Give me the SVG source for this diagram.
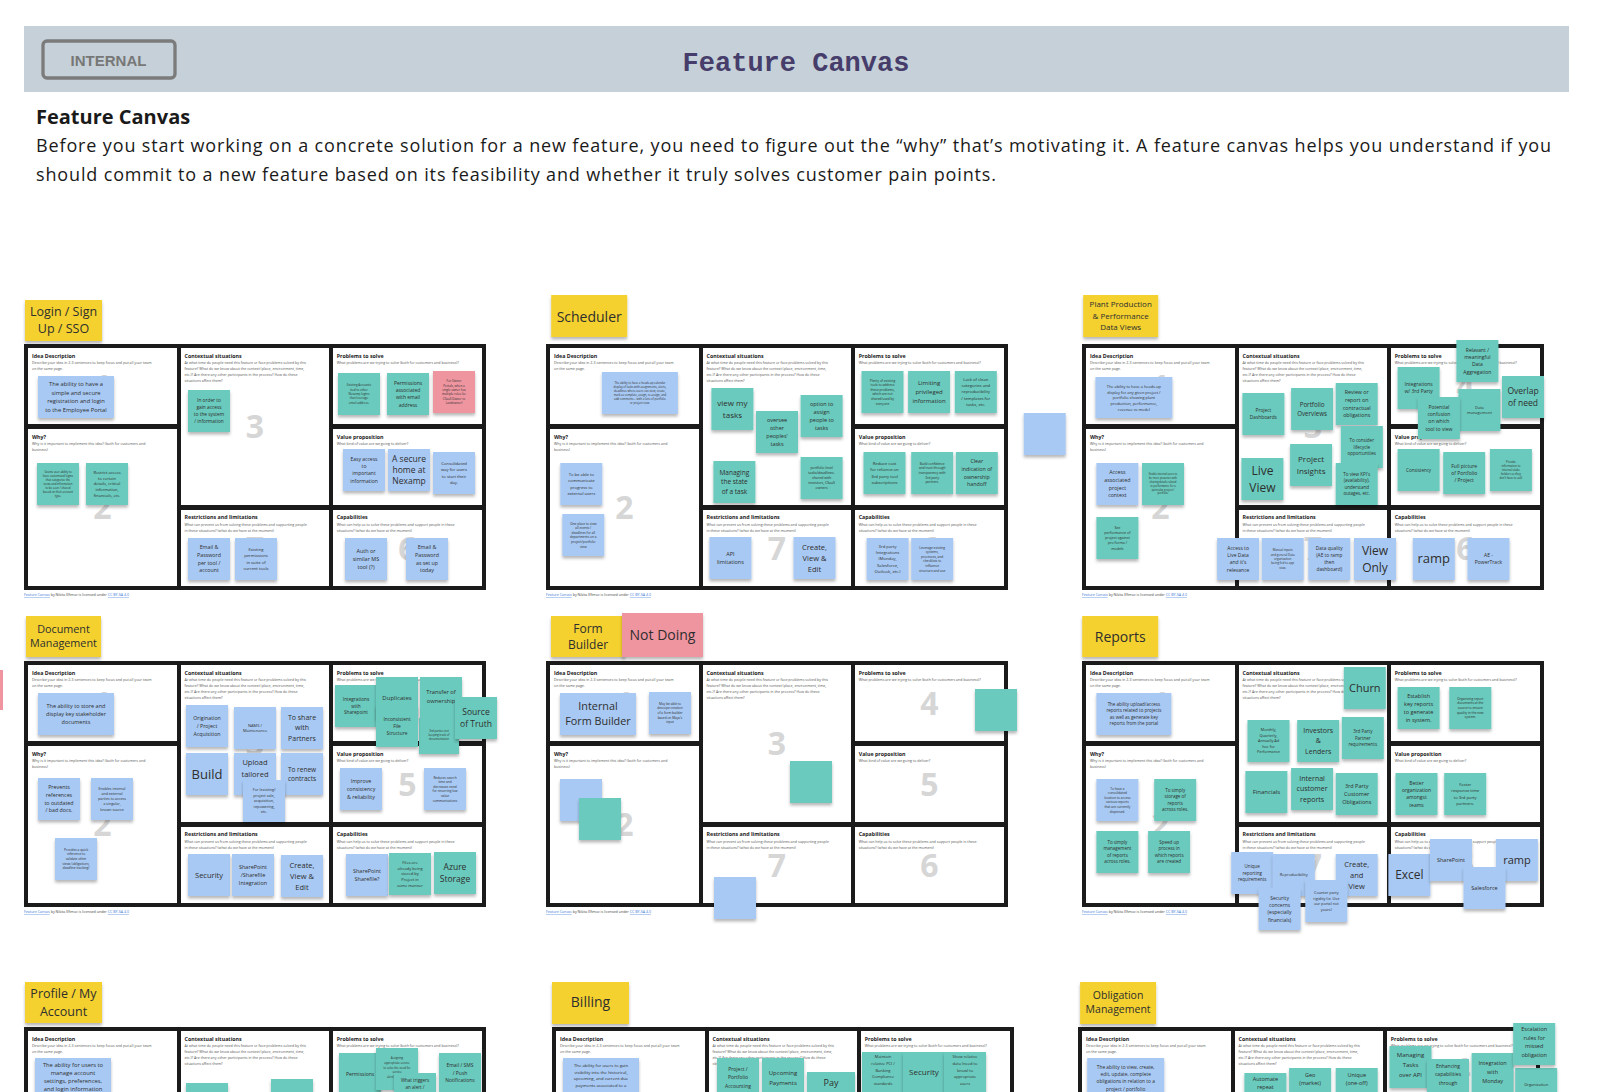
<svg xmlns="http://www.w3.org/2000/svg" xmlns:xlink="http://www.w3.org/1999/xlink" width="1600" height="1092" viewBox="0 0 1600 1092">
<style>
.pn{fill:#fff}
.ti{font-family:"Open Sans","Noto Sans",sans-serif;font-weight:700;font-size:5.3px;fill:#222}
.de{font-family:"Open Sans","Noto Sans",sans-serif;font-size:3.6px;fill:#555}
.num{font-family:"Open Sans","Noto Sans",sans-serif;font-weight:700;font-size:32px;fill:#d6d6d6;text-anchor:middle}
.ft{font-family:"Open Sans","Noto Sans",sans-serif;font-size:3.6px;fill:#444}
.lk{fill:#3a78d8;text-decoration:underline}
.b{fill:#a8c9f3;filter:url(#sh)}
.t{fill:#6bcabd;filter:url(#sh)}
.y{fill:#f4d12f;filter:url(#sh)}
.p{fill:#ef95a0;filter:url(#sh)}
.st{font-family:"Open Sans","Noto Sans",sans-serif;fill:#2e2e2e;text-anchor:middle}
</style>
<defs>
<filter id="sh" x="-15%" y="-15%" width="130%" height="145%"><feDropShadow dx="0" dy="2.5" stdDeviation="1.4" flood-color="#000" flood-opacity="0.28"/></filter>
<g id="tpl">
<rect width="462" height="246" fill="#1b1b1b"/>
<rect class="pn" x="4" y="4" width="149" height="76"/>
<rect class="pn" x="4" y="85" width="149" height="157"/>
<rect class="pn" x="157" y="4" width="148" height="157"/>
<rect class="pn" x="157" y="166" width="148" height="76"/>
<rect class="pn" x="309" y="4" width="149" height="76"/>
<rect class="pn" x="309" y="85" width="149" height="76"/>
<rect class="pn" x="309" y="166" width="149" height="76"/>
<text class="num" x="78.5" y="53.5">1</text>
<text class="num" x="78.5" y="175">2</text>
<text class="num" x="231" y="94">3</text>
<text class="num" x="231" y="215.5">7</text>
<text class="num" x="383.5" y="53.5">4</text>
<text class="num" x="383.5" y="134.5">5</text>
<text class="num" x="383.5" y="215.5">6</text>
<text class="ti" x="8" y="13.7">Idea Description</text>
<text class="de" x="8" y="20">Describe your idea in 2-3 sentences to keep focus and put all your team<tspan x="8" dy="6">on the same page.</tspan></text>
<text class="ti" x="8" y="94.7">Why?</text>
<text class="de" x="8" y="101.3">Why is it important to implement this idea? (both for customers and<tspan x="8" dy="5.8">business)</tspan></text>
<text class="ti" x="160.5" y="13.7">Contextual situations</text>
<text class="de" x="160.5" y="20">At what time do people need this feature or face problems solved by this<tspan x="160.5" dy="5.9">feature? What do we know about the context (place, environment, time,</tspan><tspan x="160.5" dy="5.9">etc.)? Are there any other participants in the process? How do these</tspan><tspan x="160.5" dy="5.9">situations affect them?</tspan></text>
<text class="ti" x="160.5" y="175.3">Restrictions and limitations</text>
<text class="de" x="160.5" y="182">What can prevent us from solving these problems and supporting people<tspan x="160.5" dy="5.8">in these situations? (what do we have at the moment)</tspan></text>
<text class="ti" x="312.7" y="13.7">Problems to solve</text>
<text class="de" x="312.7" y="20">What problems are we trying to solve (both for customers and business)?</text>
<text class="ti" x="312.7" y="94.7">Value proposition</text>
<text class="de" x="312.7" y="101.3">What kind of value are we going to deliver?</text>
<text class="ti" x="312.7" y="175.3">Capabilities</text>
<text class="de" x="312.7" y="182">What can help us to solve these problems and support people in these<tspan x="312.7" dy="5.8">situations? (what do we have at the moment)</tspan></text>
<text class="ft" x="0" y="252"><tspan class="lk">Feature Canvas</tspan> by Nikita Efimov is licensed under <tspan class="lk">CC BY-SA 4.0</tspan></text>
</g>
</defs>

<g id="header">
<rect x="24" y="26" width="1545" height="66" fill="#c5d0d8"/>
<rect x="43" y="41" width="132" height="37" rx="4" fill="none" stroke="#7b7b7b" stroke-width="3.3"/>
<text x="108.5" y="65.7" font-family="Liberation Sans, Arial, sans-serif" font-weight="bold" font-size="15" fill="#777" text-anchor="middle">INTERNAL</text>
<text x="796" y="71" font-family="Liberation Mono, monospace" font-weight="bold" font-size="27" fill="#463d6b" text-anchor="middle">Feature Canvas</text>
</g>
<g id="intro" font-family="Open Sans, Noto Sans, sans-serif" fill="#1a1a1a">
<text x="36" y="124" font-size="20" font-weight="bold">Feature Canvas</text>
<text x="36" y="152" font-size="18" textLength="1515" lengthAdjust="spacing">Before you start working on a concrete solution for a new feature, you need to figure out the “why” that’s motivating it. A feature canvas helps you understand if you</text>
<text x="36" y="181" font-size="18" textLength="960" lengthAdjust="spacing">should commit to a new feature based on its feasibility and whether it truly solves customer pain points.</text>
</g>
<g id="connectors"/>

<!-- Canvas 1: Login -->
<g id="canvas-login">
<use href="#tpl" xlink:href="#tpl" transform="translate(24,344)"/>
<g id="login-title" transform="translate(25,300)"><rect class="y" width="77" height="41"/><text class="st" font-size="12.5" y="16"><tspan x="38.5">Login / Sign</tspan><tspan x="38.5" dy="17">Up / SSO</tspan></text></g>
<g id="login-idea" transform="translate(38,376)"><rect class="b" width="76" height="42"/><text class="st" font-size="5.8" y="10.4"><tspan x="38">The ability to have a</tspan><tspan x="38" dy="8.4">simple and secure</tspan><tspan x="38" dy="8.4">registration and login</tspan><tspan x="38" dy="8.4">to the Employee Portal</tspan></text></g>
<g id="login-ctx1" transform="translate(188,390)"><rect class="t" width="42" height="42"/><text class="st" font-size="4.8" y="12.24"><tspan x="21">In order to</tspan><tspan x="21" dy="6.96">gain access</tspan><tspan x="21" dy="6.96">to the system</tspan><tspan x="21" dy="6.96">/ information</tspan></text></g>
<g id="login-prob1" transform="translate(338,373)"><rect class="t" width="42" height="42"/><text class="st" font-size="3" y="13.35"><tspan x="21">Existing Accounts</tspan><tspan x="21" dy="4.35">tied to other</tspan><tspan x="21" dy="4.35">Nexamp logins</tspan><tspan x="21" dy="4.35">that leverage</tspan><tspan x="21" dy="4.35">email address.</tspan></text></g>
<g id="login-prob2" transform="translate(387,373)"><rect class="t" width="42" height="42"/><text class="st" font-size="5" y="11.9"><tspan x="21">Permissions</tspan><tspan x="21" dy="7.25">associated</tspan><tspan x="21" dy="7.25">with email</tspan><tspan x="21" dy="7.25">address</tspan></text></g>
<g id="login-prob3" transform="translate(433,371)"><rect class="p" width="42" height="42"/><text class="st" font-size="3" y="11.2"><tspan x="21">For Owner</tspan><tspan x="21" dy="4.35">Portals, when a</tspan><tspan x="21" dy="4.35">single owner has</tspan><tspan x="21" dy="4.35">multiple roles (ie:</tspan><tspan x="21" dy="4.35">CSaaS Owner vs</tspan><tspan x="21" dy="4.35">Landowner)</tspan></text></g>
<g id="login-why1" transform="translate(37,463)"><rect class="t" width="42" height="42"/><text class="st" font-size="2.8" y="9.8"><tspan x="21">Grants user ability to</tspan><tspan x="21" dy="4.06">have customized logins</tspan><tspan x="21" dy="4.06">that categorize the</tspan><tspan x="21" dy="4.06">views and information</tspan><tspan x="21" dy="4.06">to be seen / shared</tspan><tspan x="21" dy="4.06">based on their account</tspan><tspan x="21" dy="4.06">type.</tspan></text></g>
<g id="login-why2" transform="translate(86,463)"><rect class="t" width="42" height="42"/><text class="st" font-size="4" y="10.8"><tspan x="21">Restrict access</tspan><tspan x="21" dy="5.8">to certain</tspan><tspan x="21" dy="5.8">details, critical</tspan><tspan x="21" dy="5.8">information,</tspan><tspan x="21" dy="5.8">financials, etc.</tspan></text></g>
<g id="login-val1" transform="translate(343,449)"><rect class="b" width="42" height="42"/><text class="st" font-size="5" y="11.9"><tspan x="21">Easy access</tspan><tspan x="21" dy="7.25">to</tspan><tspan x="21" dy="7.25">important</tspan><tspan x="21" dy="7.25">information</tspan></text></g>
<g id="login-val2" transform="translate(388,449)"><rect class="b" width="42" height="42"/><text class="st" font-size="8.5" y="12.5"><tspan x="21">A secure</tspan><tspan x="21" dy="11.4">home at</tspan><tspan x="21" dy="11.4">Nexamp</tspan></text></g>
<g id="login-val3" transform="translate(433,452)"><rect class="b" width="42" height="42"/><text class="st" font-size="4.2" y="13.33"><tspan x="21">Consolidated</tspan><tspan x="21" dy="6.09">way for users</tspan><tspan x="21" dy="6.09">to start their</tspan><tspan x="21" dy="6.09">day.</tspan></text></g>
<g id="login-res1" transform="translate(188,538)"><rect class="b" width="42" height="42"/><text class="st" font-size="5.3" y="11.33"><tspan x="21">Email &amp;</tspan><tspan x="21" dy="7.69">Password</tspan><tspan x="21" dy="7.69">per tool /</tspan><tspan x="21" dy="7.69">account</tspan></text></g>
<g id="login-res2" transform="translate(235,538)"><rect class="b" width="42" height="42"/><text class="st" font-size="4.2" y="13.33"><tspan x="21">Existing</tspan><tspan x="21" dy="6.09">permissions</tspan><tspan x="21" dy="6.09">in suite of</tspan><tspan x="21" dy="6.09">current tools</tspan></text></g>
<g id="login-cap1" transform="translate(345,538)"><rect class="b" width="42" height="42"/><text class="st" font-size="5.5" y="14.95"><tspan x="21">Auth or</tspan><tspan x="21" dy="7.98">similar MS</tspan><tspan x="21" dy="7.98">tool (?)</tspan></text></g>
<g id="login-cap2" transform="translate(406,538)"><rect class="b" width="42" height="42"/><text class="st" font-size="5.3" y="11.33"><tspan x="21">Email &amp;</tspan><tspan x="21" dy="7.69">Password</tspan><tspan x="21" dy="7.69">as set up</tspan><tspan x="21" dy="7.69">today</tspan></text></g>
</g>

<!-- Canvas 2: Scheduler -->
<g id="canvas-scheduler">
<use href="#tpl" xlink:href="#tpl" transform="translate(546,344)"/>
<g id="sch-title" transform="translate(551.2,295)"><rect class="y" width="76" height="42"/><text class="st" font-size="14" x="38" y="27">Scheduler</text></g>
<g id="sch-idea" transform="translate(601.9,372)"><rect class="b" width="76" height="42"/><text class="st" font-size="2.8" y="11.83"><tspan x="38">The ability to have a heads-up calendar</tspan><tspan x="38" dy="4.06">display of tasks with assignments, alerts,</tspan><tspan x="38" dy="4.06">deadlines where users can view, create,</tspan><tspan x="38" dy="4.06">mark as complete, assign, re-assign, and</tspan><tspan x="38" dy="4.06">add comments – with a lens of portfolio</tspan><tspan x="38" dy="4.06">or project view.</tspan></text></g>
<g id="sch-why1" transform="translate(560.3,463)"><rect class="b" width="42" height="42"/><text class="st" font-size="4.2" y="13.33"><tspan x="21">To be able to</tspan><tspan x="21" dy="6.09">communicate</tspan><tspan x="21" dy="6.09">progress to</tspan><tspan x="21" dy="6.09">external users</tspan></text></g>
<g id="sch-why2" transform="translate(562.3,514)"><rect class="b" width="42" height="42"/><text class="st" font-size="3.2" y="10.52"><tspan x="21">One place to view</tspan><tspan x="21" dy="4.64">all events /</tspan><tspan x="21" dy="4.64">deadlines for all</tspan><tspan x="21" dy="4.64">departments on a</tspan><tspan x="21" dy="4.64">project/portfolio</tspan><tspan x="21" dy="4.64">view</tspan></text></g>
<g id="sch-ctx1" transform="translate(711.4,388)"><rect class="t" width="42" height="42"/><text class="st" font-size="8" y="18"><tspan x="21">view my</tspan><tspan x="21" dy="11.6">tasks</tspan></text></g>
<g id="sch-ctx2" transform="translate(756,411)"><rect class="t" width="42" height="42"/><text class="st" font-size="5.5" y="10.96"><tspan x="21">oversee</tspan><tspan x="21" dy="7.98">other</tspan><tspan x="21" dy="7.98">peoples'</tspan><tspan x="21" dy="7.98">tasks</tspan></text></g>
<g id="sch-ctx3" transform="translate(800.6,395)"><rect class="t" width="42" height="42"/><text class="st" font-size="5.5" y="10.96"><tspan x="21">option to</tspan><tspan x="21" dy="7.98">assign</tspan><tspan x="21" dy="7.98">people to</tspan><tspan x="21" dy="7.98">tasks</tspan></text></g>
<g id="sch-ctx4" transform="translate(713.4,461)"><rect class="t" width="42" height="42"/><text class="st" font-size="6.5" y="13.85"><tspan x="21">Managing</tspan><tspan x="21" dy="9.43">the state</tspan><tspan x="21" dy="9.43">of a task</tspan></text></g>
<g id="sch-ctx5" transform="translate(800.6,457)"><rect class="t" width="42" height="42"/><text class="st" font-size="3.5" y="12.07"><tspan x="21">portfolio level</tspan><tspan x="21" dy="5.08">tasks/deadlines-</tspan><tspan x="21" dy="5.08">shared with</tspan><tspan x="21" dy="5.08">investors, CSaaS</tspan><tspan x="21" dy="5.08">owners</tspan></text></g>
<g id="sch-prob1" transform="translate(861.5,371)"><rect class="t" width="42" height="42"/><text class="st" font-size="3.2" y="10.52"><tspan x="21">Plenty of existing</tspan><tspan x="21" dy="4.64">tools to address</tspan><tspan x="21" dy="4.64">these problems,</tspan><tspan x="21" dy="4.64">which are not</tspan><tspan x="21" dy="4.64">shared/used by</tspan><tspan x="21" dy="4.64">everyone</tspan></text></g>
<g id="sch-prob2" transform="translate(908.1,371)"><rect class="t" width="42" height="42"/><text class="st" font-size="6" y="14.4"><tspan x="21">Limiting</tspan><tspan x="21" dy="8.7">privileged</tspan><tspan x="21" dy="8.7">information</tspan></text></g>
<g id="sch-prob3" transform="translate(954.8,371)"><rect class="t" width="42" height="42"/><text class="st" font-size="4.2" y="10.29"><tspan x="21">Lack of clean</tspan><tspan x="21" dy="6.09">categories and</tspan><tspan x="21" dy="6.09">reproducibility</tspan><tspan x="21" dy="6.09">/ templates for</tspan><tspan x="21" dy="6.09">tasks, etc.</tspan></text></g>
<g id="sch-val1" transform="translate(863.5,452)"><rect class="t" width="42" height="42"/><text class="st" font-size="4.2" y="13.33"><tspan x="21">Reduce cost</tspan><tspan x="21" dy="6.09">for reliance on</tspan><tspan x="21" dy="6.09">3rd party tool</tspan><tspan x="21" dy="6.09">subscriptions</tspan></text></g>
<g id="sch-val2" transform="translate(911.2,452)"><rect class="t" width="42" height="42"/><text class="st" font-size="3.2" y="12.84"><tspan x="21">Build confidence</tspan><tspan x="21" dy="4.64">and trust through</tspan><tspan x="21" dy="4.64">transparency with</tspan><tspan x="21" dy="4.64">3rd party</tspan><tspan x="21" dy="4.64">partners.</tspan></text></g>
<g id="sch-val3" transform="translate(955.8,452)"><rect class="t" width="42" height="42"/><text class="st" font-size="5.3" y="11.33"><tspan x="21">Clear</tspan><tspan x="21" dy="7.69">indication of</tspan><tspan x="21" dy="7.69">ownership</tspan><tspan x="21" dy="7.69">handoff</tspan></text></g>
<g id="sch-res1" transform="translate(709.4,537)"><rect class="b" width="42" height="42"/><text class="st" font-size="5.5" y="18.9"><tspan x="21">API</tspan><tspan x="21" dy="7.98">limitations</tspan></text></g>
<g id="sch-res2" transform="translate(793.5,537)"><rect class="b" width="42" height="42"/><text class="st" font-size="7.5" y="12.75"><tspan x="21">Create,</tspan><tspan x="21" dy="10.9">View &amp;</tspan><tspan x="21" dy="10.9">Edit</tspan></text></g>
<g id="sch-cap1" transform="translate(866.6,538)"><rect class="b" width="42" height="42"/><text class="st" font-size="4.2" y="10.29"><tspan x="21">3rd party</tspan><tspan x="21" dy="6.09">Integrations</tspan><tspan x="21" dy="6.09">(Monday,</tspan><tspan x="21" dy="6.09">Salesforce,</tspan><tspan x="21" dy="6.09">Outlook, etc.)</tspan></text></g>
<g id="sch-cap2" transform="translate(911.2,538)"><rect class="b" width="42" height="42"/><text class="st" font-size="3.2" y="10.52"><tspan x="21">Leverage existing</tspan><tspan x="21" dy="4.64">systems,</tspan><tspan x="21" dy="4.64">processes, and</tspan><tspan x="21" dy="4.64">checklists to</tspan><tspan x="21" dy="4.64">influence</tspan><tspan x="21" dy="4.64">structure and use</tspan></text></g>
<g id="sch-extra" transform="translate(1023.7,413)"><rect class="b" width="42" height="42"/></g>
</g>

<!-- Canvas 3: Plant -->
<g id="canvas-plant">
<use href="#tpl" xlink:href="#tpl" transform="translate(1082,344)"/>
<g id="plant-title" transform="translate(1083.2,295)"><rect class="y" width="75" height="42"/><text class="st" font-size="8" y="12"><tspan x="37.5">Plant Production</tspan><tspan x="37.5" dy="11.5">&amp; Performance</tspan><tspan x="37.5" dy="11.5">Data Views</tspan></text></g>
<g id="plant-idea" transform="translate(1095.4,377)"><rect class="b" width="77" height="41"/><text class="st" font-size="3.9" y="11.05"><tspan x="38.5">The ability to have a heads-up</tspan><tspan x="38.5" dy="5.66">display for any given project /</tspan><tspan x="38.5" dy="5.66">portfolio showing plant</tspan><tspan x="38.5" dy="5.66">production, performance,</tspan><tspan x="38.5" dy="5.66">revenue vs model</tspan></text></g>
<g id="plant-why1" transform="translate(1096.4,463)"><rect class="b" width="42" height="42"/><text class="st" font-size="5.3" y="11.33"><tspan x="21">Access</tspan><tspan x="21" dy="7.69">associated</tspan><tspan x="21" dy="7.69">project</tspan><tspan x="21" dy="7.69">context</tspan></text></g>
<g id="plant-why2" transform="translate(1142,463)"><rect class="t" width="42" height="42"/><text class="st" font-size="2.6" y="12.49"><tspan x="21">Enable internal users to</tspan><tspan x="21" dy="3.77">be more proactive with</tspan><tspan x="21" dy="3.77">sharing details related</tspan><tspan x="21" dy="3.77">to performance for a</tspan><tspan x="21" dy="3.77">particular project /</tspan><tspan x="21" dy="3.77">portfolio.</tspan></text></g>
<g id="plant-why3" transform="translate(1096.4,517)"><rect class="t" width="42" height="42"/><text class="st" font-size="3.6" y="11.82"><tspan x="21">See</tspan><tspan x="21" dy="5.22">performance of</tspan><tspan x="21" dy="5.22">project against</tspan><tspan x="21" dy="5.22">pro forma /</tspan><tspan x="21" dy="5.22">models</tspan></text></g>
<g id="plant-ctx1" transform="translate(1242.4,393)"><rect class="t" width="42" height="42"/><text class="st" font-size="4.8" y="19.2"><tspan x="21">Project</tspan><tspan x="21" dy="6.96">Dashboards</tspan></text></g>
<g id="plant-ctx2" transform="translate(1291.1,388)"><rect class="t" width="42" height="42"/><text class="st" font-size="6.2" y="18.68"><tspan x="21">Portfolio</tspan><tspan x="21" dy="8.99">Overviews</tspan></text></g>
<g id="plant-ctx3" transform="translate(1335.7,383)"><rect class="t" width="42" height="42"/><text class="st" font-size="5.3" y="11.33"><tspan x="21">Review or</tspan><tspan x="21" dy="7.69">report on</tspan><tspan x="21" dy="7.69">contractual</tspan><tspan x="21" dy="7.69">obligations</tspan></text></g>
<g id="plant-ctx4" transform="translate(1340.8,426)"><rect class="t" width="42" height="42"/><text class="st" font-size="4.5" y="16.05"><tspan x="21">To consider</tspan><tspan x="21" dy="6.53">lifecycle</tspan><tspan x="21" dy="6.53">opportunities</tspan></text></g>
<g id="plant-ctx5" transform="translate(1241.4,458)"><rect class="t" width="42" height="42"/><text class="st" font-size="12" y="16.5"><tspan x="21">Live</tspan><tspan x="21" dy="17">View</tspan></text></g>
<g id="plant-ctx6" transform="translate(1290.1,444)"><rect class="t" width="42" height="42"/><text class="st" font-size="8" y="18"><tspan x="21">Project</tspan><tspan x="21" dy="11.6">Insights</tspan></text></g>
<g id="plant-ctx7" transform="translate(1335.7,463)"><rect class="t" width="42" height="42"/><text class="st" font-size="4.5" y="12.79"><tspan x="21">To view KPI's</tspan><tspan x="21" dy="6.53">(availability),</tspan><tspan x="21" dy="6.53">understand</tspan><tspan x="21" dy="6.53">outages, etc.</tspan></text></g>
<g id="plant-prob1" transform="translate(1397.6,367)"><rect class="t" width="42" height="42"/><text class="st" font-size="5" y="19.1"><tspan x="21">Integrations</tspan><tspan x="21" dy="7.25">w/ 3rd Party</tspan></text></g>
<g id="plant-prob2" transform="translate(1456.4,340)"><rect class="t" width="42" height="42"/><text class="st" font-size="5" y="11.9"><tspan x="21">Relavant /</tspan><tspan x="21" dy="7.25">meaningful</tspan><tspan x="21" dy="7.25">Data</tspan><tspan x="21" dy="7.25">Aggregation</tspan></text></g>
<g id="plant-prob3" transform="translate(1458.4,389)"><rect class="t" width="42" height="42"/><text class="st" font-size="4" y="19.5"><tspan x="21">Data</tspan><tspan x="21" dy="5.8">management</tspan></text></g>
<g id="plant-prob4" transform="translate(1417.9,397)"><rect class="t" width="42" height="42"/><text class="st" font-size="5" y="11.9"><tspan x="21">Potential</tspan><tspan x="21" dy="7.25">confusion</tspan><tspan x="21" dy="7.25">on which</tspan><tspan x="21" dy="7.25">tool to view</tspan></text></g>
<g id="plant-prob5" transform="translate(1502,376)"><rect class="t" width="42" height="42"/><text class="st" font-size="8.5" y="17.8"><tspan x="21">Overlap</tspan><tspan x="21" dy="12.3">of need</tspan></text></g>
<g id="plant-val1" transform="translate(1397.6,449)"><rect class="t" width="42" height="42"/><text class="st" font-size="4.5" x="21" y="22.6">Consistency</text></g>
<g id="plant-val2" transform="translate(1443.2,452)"><rect class="t" width="42" height="42"/><text class="st" font-size="5" y="15.5"><tspan x="21">Full picture</tspan><tspan x="21" dy="7.25">of Portfolio</tspan><tspan x="21" dy="7.25">/ Project</tspan></text></g>
<g id="plant-val3" transform="translate(1489.9,449)"><rect class="t" width="42" height="42"/><text class="st" font-size="2.8" y="13.86"><tspan x="21">Provide</tspan><tspan x="21" dy="4.06">information to</tspan><tspan x="21" dy="4.06">internal stake</tspan><tspan x="21" dy="4.06">holders so they</tspan><tspan x="21" dy="4.06">don't have to ask!</tspan></text></g>
<g id="plant-res1" transform="translate(1217.1,538)"><rect class="b" width="42" height="42"/><text class="st" font-size="5" y="11.9"><tspan x="21">Access to</tspan><tspan x="21" dy="7.25">Live Data</tspan><tspan x="21" dy="7.25">and it's</tspan><tspan x="21" dy="7.25">relevance</tspan></text></g>
<g id="plant-res2" transform="translate(1261.7,538)"><rect class="b" width="42" height="42"/><text class="st" font-size="3" y="13.35"><tspan x="21">Manual inputs</tspan><tspan x="21" dy="4.35">and general Data</tspan><tspan x="21" dy="4.35">organization</tspan><tspan x="21" dy="4.35">being fed to app</tspan><tspan x="21" dy="4.35">view.</tspan></text></g>
<g id="plant-res3" transform="translate(1308.3,538)"><rect class="b" width="42" height="42"/><text class="st" font-size="4.8" y="12.24"><tspan x="21">Data quality</tspan><tspan x="21" dy="6.96">(AE to ramp</tspan><tspan x="21" dy="6.96">then</tspan><tspan x="21" dy="6.96">dashboard)</tspan></text></g>
<g id="plant-res4" transform="translate(1354,538)"><rect class="b" width="42" height="42"/><text class="st" font-size="12" y="16.5"><tspan x="21">View</tspan><tspan x="21" dy="17">Only</tspan></text></g>
<g id="plant-cap1" transform="translate(1412.8,538)"><rect class="b" width="42" height="42"/><text class="st" font-size="13" x="21" y="25">ramp</text></g>
<g id="plant-cap2" transform="translate(1467.5,538)"><rect class="b" width="42" height="42"/><text class="st" font-size="5" y="19.1"><tspan x="21">AE -</tspan><tspan x="21" dy="7.25">PowerTrack</tspan></text></g>
</g>

<!-- Canvas 4: Document Management -->
<g id="canvas-docs">
<rect id="pink-edge" x="0" y="670" width="3" height="40" fill="#ef95a0"/>
<use href="#tpl" xlink:href="#tpl" transform="translate(24,661)"/>
<g id="doc-title" transform="translate(26,616)"><rect class="y" width="75" height="41"/><text class="st" font-size="10.8" y="17"><tspan x="37.5">Document</tspan><tspan x="37.5" dy="14">Management</tspan></text></g>
<g id="doc-idea" transform="translate(38,693)"><rect class="b" width="76" height="42"/><text class="st" font-size="5.5" y="14.95"><tspan x="38">The ability to store and</tspan><tspan x="38" dy="7.98">display key stakeholder</tspan><tspan x="38" dy="7.98">documents</tspan></text></g>
<g id="doc-why1" transform="translate(38,778)"><rect class="b" width="42" height="42"/><text class="st" font-size="5.3" y="11.33"><tspan x="21">Prevents</tspan><tspan x="21" dy="7.69">references</tspan><tspan x="21" dy="7.69">to outdated</tspan><tspan x="21" dy="7.69">/ bad docs.</tspan></text></g>
<g id="doc-why2" transform="translate(91,778)"><rect class="b" width="42" height="42"/><text class="st" font-size="3.6" y="11.82"><tspan x="21">Enables internal</tspan><tspan x="21" dy="5.22">and external</tspan><tspan x="21" dy="5.22">parties to access</tspan><tspan x="21" dy="5.22">a singular,</tspan><tspan x="21" dy="5.22">known source</tspan></text></g>
<g id="doc-why3" transform="translate(55,838)"><rect class="b" width="42" height="42"/><text class="st" font-size="3.2" y="12.84"><tspan x="21">Provides a quick</tspan><tspan x="21" dy="4.64">reference to</tspan><tspan x="21" dy="4.64">validate other</tspan><tspan x="21" dy="4.64">views (obligations,</tspan><tspan x="21" dy="4.64">deadline tracking)</tspan></text></g>
<g id="doc-ctx1" transform="translate(186,705)"><rect class="b" width="42" height="42"/><text class="st" font-size="5.3" y="15.17"><tspan x="21">Origination</tspan><tspan x="21" dy="7.69">/ Project</tspan><tspan x="21" dy="7.69">Acquisition</tspan></text></g>
<g id="doc-ctx2" transform="translate(234,707)"><rect class="b" width="42" height="42"/><text class="st" font-size="4" y="19.5"><tspan x="21">NAMS /</tspan><tspan x="21" dy="5.8">Maintenance</tspan></text></g>
<g id="doc-ctx3" transform="translate(281,707)"><rect class="b" width="42" height="42"/><text class="st" font-size="7" y="13.3"><tspan x="21">To share</tspan><tspan x="21" dy="10.15">with</tspan><tspan x="21" dy="10.15">Partners</tspan></text></g>
<g id="doc-ctx4" transform="translate(186,753)"><rect class="b" width="42" height="42"/><text class="st" font-size="13" x="21" y="25.5">Build</text></g>
<g id="doc-ctx5" transform="translate(234,753)"><rect class="b" width="42" height="42"/><text class="st" font-size="7.5" y="11.5"><tspan x="21">Upload</tspan><tspan x="21" dy="12">tailored</tspan></text></g>
<g id="doc-ctx6" transform="translate(281,753)"><rect class="b" width="42" height="42"/><text class="st" font-size="6.5" y="18.56"><tspan x="21">To renew</tspan><tspan x="21" dy="9.43">contracts</tspan></text></g>
<g id="doc-ctx7" transform="translate(243,780)"><rect class="b" width="42" height="42"/><text class="st" font-size="3.8" y="11.31"><tspan x="21">For (existing)</tspan><tspan x="21" dy="5.51">project sale,</tspan><tspan x="21" dy="5.51">acquisition,</tspan><tspan x="21" dy="5.51">repowering,</tspan><tspan x="21" dy="5.51">etc.</tspan></text></g>
<g id="doc-prob1" transform="translate(335,685)"><rect class="t" width="42" height="42"/><text class="st" font-size="4.7" y="15.83"><tspan x="21">Integrations</tspan><tspan x="21" dy="6.8">with</tspan><tspan x="21" dy="6.8">Sharepoint</tspan></text></g>
<g id="doc-prob2" transform="translate(376,677)"><rect class="t" width="42" height="42"/><text class="st" font-size="6" x="21" y="22.5">Duplicates</text></g>
<g id="doc-prob3" transform="translate(420,677)"><rect class="t" width="42" height="42"/><text class="st" font-size="5.8" y="17"><tspan x="21">Transfer of</tspan><tspan x="21" dy="8.5">ownership</tspan></text></g>
<g id="doc-prob4" transform="translate(419,718)"><rect class="t" width="40" height="36"/><text class="st" font-size="2.8" y="13.5"><tspan x="20">3rd parties not</tspan><tspan x="20" dy="4">keeping track of</tspan><tspan x="20" dy="4">documentation</tspan></text></g>
<g id="doc-prob5" transform="translate(376,705)"><rect class="t" width="42" height="42"/><text class="st" font-size="4.8" y="15.72"><tspan x="21">Inconsistent</tspan><tspan x="21" dy="6.96">File</tspan><tspan x="21" dy="6.96">Structure</tspan></text></g>
<g id="doc-prob6" transform="translate(455,697)"><rect class="t" width="42" height="42"/><text class="st" font-size="8.5" y="17.8"><tspan x="21">Source</tspan><tspan x="21" dy="12.3">of Truth</tspan></text></g>
<g id="doc-val1" transform="translate(340,768)"><rect class="b" width="42" height="42"/><text class="st" font-size="5.3" y="15.17"><tspan x="21">Improve</tspan><tspan x="21" dy="7.69">consistency</tspan><tspan x="21" dy="7.69">&amp; reliability</tspan></text></g>
<g id="doc-val2" transform="translate(424,768)"><rect class="b" width="42" height="42"/><text class="st" font-size="3.2" y="10.52"><tspan x="21">Reduces search</tspan><tspan x="21" dy="4.64">time and</tspan><tspan x="21" dy="4.64">decreases need</tspan><tspan x="21" dy="4.64">for recurring low</tspan><tspan x="21" dy="4.64">value</tspan><tspan x="21" dy="4.64">communications</tspan></text></g>
<g id="doc-res1" transform="translate(188,854)"><rect class="b" width="42" height="42"/><text class="st" font-size="7.5" x="21" y="23.6">Security</text></g>
<g id="doc-res2" transform="translate(232,854)"><rect class="b" width="42" height="42"/><text class="st" font-size="5.5" y="14.95"><tspan x="21">SharePoint</tspan><tspan x="21" dy="7.98">/Sharefile</tspan><tspan x="21" dy="7.98">Integration</tspan></text></g>
<g id="doc-res3" transform="translate(281,855)"><rect class="b" width="42" height="42"/><text class="st" font-size="7.5" y="12.75"><tspan x="21">Create,</tspan><tspan x="21" dy="10.9">View &amp;</tspan><tspan x="21" dy="10.9">Edit</tspan></text></g>
<g id="doc-cap1" transform="translate(346,854)"><rect class="b" width="42" height="42"/><text class="st" font-size="5.5" y="18.9"><tspan x="21">SharePoint</tspan><tspan x="21" dy="7.98">Sharefile?</tspan></text></g>
<g id="doc-cap2" transform="translate(389,853)"><rect class="t" width="42" height="42"/><text class="st" font-size="4" y="10.8"><tspan x="21">Files are</tspan><tspan x="21" dy="5.8">already being</tspan><tspan x="21" dy="5.8">stored by</tspan><tspan x="21" dy="5.8">Project in</tspan><tspan x="21" dy="5.8">some manner</tspan></text></g>
<g id="doc-cap3" transform="translate(434,852)"><rect class="t" width="42" height="42"/><text class="st" font-size="8.5" y="17.8"><tspan x="21">Azure</tspan><tspan x="21" dy="12.3">Storage</tspan></text></g>
</g>

<!-- Canvas 5: Form Builder -->
<g id="canvas-form">
<use href="#tpl" xlink:href="#tpl" transform="translate(546,661)"/>
<g id="form-title" transform="translate(551,616)"><rect class="y" width="74" height="41"/><text class="st" font-size="12" y="17"><tspan x="37">Form</tspan><tspan x="37" dy="16">Builder</tspan></text></g>
<g id="form-notdoing" transform="translate(622,613)"><rect class="p" width="81" height="44"/><text class="st" font-size="14" x="40.5" y="27">Not Doing</text></g>
<g id="form-idea1" transform="translate(560,693)"><rect class="b" width="76" height="42"/><text class="st" font-size="10.8" y="16.5"><tspan x="38">Internal</tspan><tspan x="38" dy="15">Form Builder</tspan></text></g>
<g id="form-idea2" transform="translate(649,692)"><rect class="b" width="42" height="42"/><text class="st" font-size="3.2" y="12.84"><tspan x="21">May be able to</tspan><tspan x="21" dy="4.64">descope creation</tspan><tspan x="21" dy="4.64">of a form builder</tspan><tspan x="21" dy="4.64">based on Maya's</tspan><tspan x="21" dy="4.64">input</tspan></text></g>
<g id="form-why1" transform="translate(560,779)"><rect class="b" width="42" height="42"/></g>
<g id="form-why2" transform="translate(579,798)"><rect class="t" width="42" height="42"/></g>
<g id="form-ctx1" transform="translate(790,761)"><rect class="t" width="42" height="42"/></g>
<g id="form-prob1" transform="translate(975,689)"><rect class="t" width="42" height="42"/></g>
<g id="form-res1" transform="translate(714,877)"><rect class="b" width="42" height="42"/></g>
</g>

<!-- Canvas 6: Reports -->
<g id="canvas-reports">
<use href="#tpl" xlink:href="#tpl" transform="translate(1082,661)"/>
<g id="rep-title" transform="translate(1082.2,616)"><rect class="y" width="76" height="41"/><text class="st" font-size="14" x="38" y="26">Reports</text></g>
<g id="rep-idea" transform="translate(1096.4,693)"><rect class="b" width="75" height="42"/><text class="st" font-size="4.5" y="12.79"><tspan x="37.5">The ability upload/access</tspan><tspan x="37.5" dy="6.53">reports related to projects</tspan><tspan x="37.5" dy="6.53">as well as generate key</tspan><tspan x="37.5" dy="6.53">reports from the portal</tspan></text></g>
<g id="rep-why1" transform="translate(1096.4,779)"><rect class="b" width="42" height="42"/><text class="st" font-size="3.2" y="10.52"><tspan x="21">To have a</tspan><tspan x="21" dy="4.64">consolidated</tspan><tspan x="21" dy="4.64">location to access</tspan><tspan x="21" dy="4.64">various reports</tspan><tspan x="21" dy="4.64">that are currently</tspan><tspan x="21" dy="4.64">dispersed.</tspan></text></g>
<g id="rep-why2" transform="translate(1154.2,779)"><rect class="t" width="42" height="42"/><text class="st" font-size="4.5" y="12.79"><tspan x="21">To simply</tspan><tspan x="21" dy="6.53">storage of</tspan><tspan x="21" dy="6.53">reports</tspan><tspan x="21" dy="6.53">across roles.</tspan></text></g>
<g id="rep-why3" transform="translate(1096.4,831)"><rect class="t" width="42" height="42"/><text class="st" font-size="4.5" y="12.79"><tspan x="21">To simply</tspan><tspan x="21" dy="6.53">management</tspan><tspan x="21" dy="6.53">of reports</tspan><tspan x="21" dy="6.53">across roles.</tspan></text></g>
<g id="rep-why4" transform="translate(1148.1,831)"><rect class="t" width="42" height="42"/><text class="st" font-size="4.5" y="12.79"><tspan x="21">Speed up</tspan><tspan x="21" dy="6.53">process in</tspan><tspan x="21" dy="6.53">which reports</tspan><tspan x="21" dy="6.53">are created</tspan></text></g>
<g id="rep-ctx1" transform="translate(1247.5,720)"><rect class="t" width="42" height="42"/><text class="st" font-size="3.8" y="11.31"><tspan x="21">Monthly,</tspan><tspan x="21" dy="5.51">Quarterly,</tspan><tspan x="21" dy="5.51">Annually Ad</tspan><tspan x="21" dy="5.51">hoc for</tspan><tspan x="21" dy="5.51">Performance</tspan></text></g>
<g id="rep-ctx2" transform="translate(1297.2,720)"><rect class="t" width="42" height="42"/><text class="st" font-size="7" y="13.3"><tspan x="21">Investors</tspan><tspan x="21" dy="10.15">&amp;</tspan><tspan x="21" dy="10.15">Lenders</tspan></text></g>
<g id="rep-ctx3" transform="translate(1341.8,717)"><rect class="t" width="42" height="42"/><text class="st" font-size="4.5" y="16.05"><tspan x="21">3rd Party</tspan><tspan x="21" dy="6.53">Partner</tspan><tspan x="21" dy="6.53">requirements</tspan></text></g>
<g id="rep-ctx4" transform="translate(1343.8,667)"><rect class="t" width="42" height="42"/><text class="st" font-size="11" x="21" y="24.85">Churn</text></g>
<g id="rep-ctx5" transform="translate(1245.4,771)"><rect class="t" width="42" height="42"/><text class="st" font-size="6" x="21" y="23.1">Financials</text></g>
<g id="rep-ctx6" transform="translate(1291.1,768)"><rect class="t" width="42" height="42"/><text class="st" font-size="7" y="13.3"><tspan x="21">Internal</tspan><tspan x="21" dy="10.15">customer</tspan><tspan x="21" dy="10.15">reports</tspan></text></g>
<g id="rep-ctx7" transform="translate(1335.7,773)"><rect class="t" width="42" height="42"/><text class="st" font-size="5.5" y="14.95"><tspan x="21">3rd Party</tspan><tspan x="21" dy="7.98">Customer</tspan><tspan x="21" dy="7.98">Obligations</tspan></text></g>
<g id="rep-prob1" transform="translate(1397.6,687)"><rect class="t" width="42" height="42"/><text class="st" font-size="5.5" y="10.96"><tspan x="21">Establish</tspan><tspan x="21" dy="7.98">key reports</tspan><tspan x="21" dy="7.98">to generate</tspan><tspan x="21" dy="7.98">in system.</tspan></text></g>
<g id="rep-prob2" transform="translate(1449.3,687)"><rect class="t" width="42" height="42"/><text class="st" font-size="3.2" y="12.84"><tspan x="21">Organizing report</tspan><tspan x="21" dy="4.64">documents at the</tspan><tspan x="21" dy="4.64">source to ensure</tspan><tspan x="21" dy="4.64">quality in the new</tspan><tspan x="21" dy="4.64">system.</tspan></text></g>
<g id="rep-val1" transform="translate(1395.5,773)"><rect class="t" width="42" height="42"/><text class="st" font-size="5" y="11.9"><tspan x="21">Better</tspan><tspan x="21" dy="7.25">organization</tspan><tspan x="21" dy="7.25">amongst</tspan><tspan x="21" dy="7.25">teams</tspan></text></g>
<g id="rep-val2" transform="translate(1444.2,773)"><rect class="t" width="42" height="42"/><text class="st" font-size="4.2" y="13.33"><tspan x="21">Faster</tspan><tspan x="21" dy="6.09">response time</tspan><tspan x="21" dy="6.09">to 3rd party</tspan><tspan x="21" dy="6.09">partners.</tspan></text></g>
<g id="rep-res1" transform="translate(1231.2,852)"><rect class="b" width="42" height="42"/><text class="st" font-size="4.5" y="16.05"><tspan x="21">Unique</tspan><tspan x="21" dy="6.53">reporting</tspan><tspan x="21" dy="6.53">requirements</tspan></text></g>
<g id="rep-res2" transform="translate(1272.8,854)"><rect class="b" width="42" height="42"/><text class="st" font-size="4" x="21" y="22.4">Reproducibility</text></g>
<g id="rep-res3" transform="translate(1335.7,854)"><rect class="b" width="42" height="42"/><text class="st" font-size="7.5" y="12.75"><tspan x="21">Create,</tspan><tspan x="21" dy="10.9">and</tspan><tspan x="21" dy="10.9">View</tspan></text></g>
<g id="rep-res4" transform="translate(1258.6,888)"><rect class="b" width="42" height="42"/><text class="st" font-size="5" y="11.9"><tspan x="21">Security</tspan><tspan x="21" dy="7.25">concerns</tspan><tspan x="21" dy="7.25">(especially</tspan><tspan x="21" dy="7.25">financials)</tspan></text></g>
<g id="rep-res5" transform="translate(1305.3,880)"><rect class="b" width="42" height="42"/><text class="st" font-size="3.8" y="14.06"><tspan x="21">Counter party</tspan><tspan x="21" dy="5.51">rigidity (ie. Use</tspan><tspan x="21" dy="5.51">our portal not</tspan><tspan x="21" dy="5.51">yours)</tspan></text></g>
<g id="rep-cap1" transform="translate(1388.4,854)"><rect class="b" width="42" height="42"/><text class="st" font-size="12" x="21" y="25.2">Excel</text></g>
<g id="rep-cap2" transform="translate(1430,839)"><rect class="b" width="42" height="42"/><text class="st" font-size="5.5" x="21" y="22.9">SharePoint</text></g>
<g id="rep-cap3" transform="translate(1495.9,839)"><rect class="b" width="42" height="42"/><text class="st" font-size="11" x="21" y="24.85">ramp</text></g>
<g id="rep-cap4" transform="translate(1463.5,867)"><rect class="b" width="42" height="42"/><text class="st" font-size="5.5" x="21" y="22.9">Salesforce</text></g>
</g>

<!-- Canvas 7: Profile -->
<g id="canvas-profile">
<use href="#tpl" xlink:href="#tpl" transform="translate(24,1027)"/>
<g id="prof-title" transform="translate(25,982)"><rect class="y" width="77" height="41"/><text class="st" font-size="12.5" y="16"><tspan x="38.5">Profile / My</tspan><tspan x="38.5" dy="17.5">Account</tspan></text></g>
<g id="prof-idea" transform="translate(35,1058)"><rect class="b" width="76" height="42"/><text class="st" font-size="5.8" y="8.5"><tspan x="38">The ability for users to</tspan><tspan x="38" dy="8">manage account</tspan><tspan x="38" dy="8">settings, preferences,</tspan><tspan x="38" dy="8">and login information</tspan></text></g>
<g id="prof-ctx1" transform="translate(186,1083)"><rect class="t" width="42" height="42"/></g>
<g id="prof-ctx2" transform="translate(271,1079)"><rect class="t" width="42" height="42"/></g>
<g id="prof-prob1" transform="translate(339,1053)"><rect class="t" width="42" height="42"/><text class="st" font-size="5" x="21" y="22.75">Permissions</text></g>
<g id="prof-prob2" transform="translate(376,1048)"><rect class="t" width="42" height="42"/><text class="st" font-size="2.8" y="11"><tspan x="21">Assigning</tspan><tspan x="21" dy="4.8">appropriate service</tspan><tspan x="21" dy="4.8">to solve the need for</tspan><tspan x="21" dy="4.8">service</tspan><tspan x="21" dy="4.8">alert/schedules</tspan></text></g>
<g id="prof-prob3" transform="translate(394,1073)"><rect class="t" width="42" height="42"/><text class="st" font-size="4.5" y="8.5"><tspan x="21">What triggers</tspan><tspan x="21" dy="7">an alert /</tspan></text></g>
<g id="prof-prob4" transform="translate(439,1053)"><rect class="t" width="42" height="42"/><text class="st" font-size="5" y="14"><tspan x="21">Email / SMS</tspan><tspan x="21" dy="7.5">/ Push</tspan><tspan x="21" dy="7.5">Notifications</tspan></text></g>
</g>

<!-- Canvas 8: Billing -->
<g id="canvas-billing">
<use href="#tpl" xlink:href="#tpl" transform="translate(552,1027)"/>
<g id="bill-title" transform="translate(552,982)"><rect class="y" width="77" height="42"/><text class="st" font-size="14" x="38.5" y="25">Billing</text></g>
<g id="bill-idea" transform="translate(563,1058)"><rect class="b" width="76" height="42"/><text class="st" font-size="4.3" y="9"><tspan x="38">The ability for users to gain</tspan><tspan x="38" dy="6.6">visibility into the historical,</tspan><tspan x="38" dy="6.6">upcoming, and current due</tspan><tspan x="38" dy="6.6">payments associated to a</tspan></text></g>
<g id="bill-ctx1" transform="translate(717,1058)"><rect class="t" width="42" height="42"/><text class="st" font-size="5" y="12.7"><tspan x="21">Project /</tspan><tspan x="21" dy="8.6">Portfolio</tspan><tspan x="21" dy="8.6">Accounting</tspan></text></g>
<g id="bill-ctx2" transform="translate(762,1058)"><rect class="t" width="42" height="42"/><text class="st" font-size="6" y="17"><tspan x="21">Upcoming</tspan><tspan x="21" dy="9.7">Payments</tspan></text></g>
<g id="bill-ctx3" transform="translate(807,1072)"><rect class="t" width="48" height="42"/><text class="st" font-size="9" x="24" y="14">Pay</text></g>
<g id="bill-prob1" transform="translate(862,1052)"><rect class="t" width="42" height="42"/><text class="st" font-size="4" y="6.3"><tspan x="21">Maintain</tspan><tspan x="21" dy="6.7">relative PCI /</tspan><tspan x="21" dy="6.7">Banking</tspan><tspan x="21" dy="6.7">Compliance</tspan><tspan x="21" dy="6.7">standards</tspan></text></g>
<g id="bill-prob2" transform="translate(903,1052)"><rect class="t" width="42" height="42"/><text class="st" font-size="8" x="21" y="22.5">Security</text></g>
<g id="bill-prob3" transform="translate(944,1052)"><rect class="t" width="42" height="42"/><text class="st" font-size="4" y="6.3"><tspan x="21">Show relative</tspan><tspan x="21" dy="6.7">data  (need to</tspan><tspan x="21" dy="6.7">know) to</tspan><tspan x="21" dy="6.7">appropriate</tspan><tspan x="21" dy="6.7">users</tspan></text></g>
</g>

<!-- Canvas 9: Obligation Management -->
<g id="canvas-obligation">
<use href="#tpl" xlink:href="#tpl" transform="translate(1078,1027)"/>
<g id="obl-title" transform="translate(1080.1,982)"><rect class="y" width="76" height="42"/><text class="st" font-size="10.5" y="17"><tspan x="38">Obligation</tspan><tspan x="38" dy="14">Management</tspan></text></g>
<g id="obl-idea" transform="translate(1087.2,1058)"><rect class="b" width="77" height="42"/><text class="st" font-size="4.8" y="11"><tspan x="38.5">The ability to view, create,</tspan><tspan x="38.5" dy="7.2">edit, update, complete</tspan><tspan x="38.5" dy="7.2">obligations in relation to a</tspan><tspan x="38.5" dy="7.2">project / portfolio</tspan></text></g>
<g id="obl-ctx1" transform="translate(1244.4,1073)"><rect class="t" width="42" height="42"/><text class="st" font-size="5.5" y="8"><tspan x="21">Automate</tspan><tspan x="21" dy="8.3">repeat</tspan></text></g>
<g id="obl-ctx2" transform="translate(1289.1,1068)"><rect class="t" width="42" height="42"/><text class="st" font-size="5.5" y="9"><tspan x="21">Geo</tspan><tspan x="21" dy="8.3">(market)</tspan></text></g>
<g id="obl-ctx3" transform="translate(1335.7,1068)"><rect class="t" width="42" height="42"/><text class="st" font-size="5.5" y="9"><tspan x="21">Unique</tspan><tspan x="21" dy="8.3">(one-off)</tspan></text></g>
<g id="obl-prob1" transform="translate(1389.5,1046)"><rect class="t" width="42" height="42"/><text class="st" font-size="6" y="11"><tspan x="21">Managing</tspan><tspan x="21" dy="9.8">Tasks</tspan><tspan x="21" dy="9.8">over API</tspan></text></g>
<g id="obl-prob2" transform="translate(1427,1059)"><rect class="t" width="42" height="42"/><text class="st" font-size="5" y="8.7"><tspan x="21">Enhancing</tspan><tspan x="21" dy="8.5">capabilities</tspan><tspan x="21" dy="8.5">through</tspan></text></g>
<g id="obl-prob3" transform="translate(1471.6,1053)"><rect class="t" width="42" height="42"/><text class="st" font-size="5.5" y="12"><tspan x="21">Integration</tspan><tspan x="21" dy="9.2">with</tspan><tspan x="21" dy="9.2">Monday</tspan></text></g>
<g id="obl-prob4" transform="translate(1515.2,1068)"><rect class="t" width="42" height="42"/><text class="st" font-size="4" x="21" y="17.7">Organization</text></g>
<g id="obl-prob5" transform="translate(1513.2,1023)"><rect class="t" width="42" height="42"/><text class="st" font-size="5.5" y="8"><tspan x="21">Escalation</tspan><tspan x="21" dy="8.7">rules for</tspan><tspan x="21" dy="8.7">missed</tspan><tspan x="21" dy="8.7">obligation</tspan></text></g>
</g>
</svg>
